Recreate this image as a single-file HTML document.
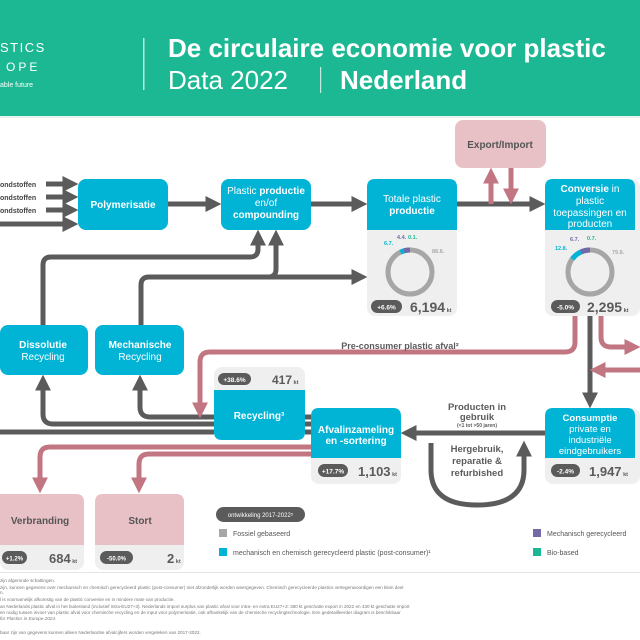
<!DOCTYPE html>
<html><head><meta charset="utf-8"><style>
html,body{margin:0;padding:0;background:#fff}
svg{display:block}
text{font-family:"Liberation Sans",sans-serif}
</style></head><body>
<svg width="640" height="640" viewBox="0 0 640 640" xmlns="http://www.w3.org/2000/svg">
<defs>
<marker id="ag" viewBox="0 0 10 10" refX="6" refY="5" markerWidth="3.2" markerHeight="3.2" orient="auto"><path d="M0,0 L10,5 L0,10 z" fill="#5b5b5b"/></marker>
<marker id="ap" viewBox="0 0 10 10" refX="6" refY="5" markerWidth="3.2" markerHeight="3.2" orient="auto"><path d="M0,0 L10,5 L0,10 z" fill="#c27682"/></marker>
</defs>
<!-- header -->
<rect x="0" y="0" width="640" height="116" fill="#1bb893"/>
<rect x="0" y="116" width="640" height="2" fill="#e6f3ef"/>
<text x="0" y="52" fill="#fff" font-size="13" letter-spacing="1.5">STICS</text>
<text x="6" y="71" fill="#fff" font-size="12" letter-spacing="3">OPE</text>
<text x="0" y="87" fill="#fff" font-size="7">able future</text>
<rect x="143" y="38" width="1.5" height="52" fill="#bfeadd"/>
<text x="168" y="57" fill="#fff" font-size="26" font-weight="bold">De circulaire economie voor plastic</text>
<text x="168" y="89" fill="#fff" font-size="26">Data 2022</text>
<rect x="320" y="67" width="1.2" height="26" fill="#bfeadd"/>
<text x="340" y="89" fill="#fff" font-size="26" font-weight="bold">Nederland</text>

<!-- gray lines -->
<g stroke="#5b5b5b" stroke-width="5" fill="none">
<line x1="46" y1="184" x2="72" y2="184" marker-end="url(#ag)"/>
<line x1="46" y1="197" x2="72" y2="197" marker-end="url(#ag)"/>
<line x1="46" y1="210" x2="72" y2="210" marker-end="url(#ag)"/>
<line x1="0" y1="224" x2="72" y2="224" marker-end="url(#ag)"/>
<line x1="168" y1="204" x2="215" y2="204" marker-end="url(#ag)"/>
<line x1="311" y1="204" x2="361" y2="204" marker-end="url(#ag)"/>
<line x1="457" y1="204" x2="539" y2="204" marker-end="url(#ag)"/>
<path d="M43 325 V265 Q43 257 51 257 H250 Q258 257 258 249 V236" marker-end="url(#ag)"/>
<path d="M141 325 V285 Q141 277 149 277 H361" marker-end="url(#ag)"/>
<path d="M268 277 Q276 277 276 269 V236" marker-end="url(#ag)"/>
<path d="M214 417 H150 Q140 417 140 407 V381" marker-end="url(#ag)"/>
<path d="M214 424 H53 Q43 424 43 414 V381" marker-end="url(#ag)"/>
<line x1="0" y1="432" x2="214" y2="432"/>
<line x1="305" y1="417" x2="311" y2="417"/>
<line x1="305" y1="424" x2="311" y2="424"/>
<line x1="305" y1="432" x2="311" y2="432"/>
<line x1="590" y1="316" x2="590" y2="402" marker-end="url(#ag)"/>
<line x1="545" y1="433" x2="407" y2="433" marker-end="url(#ag)"/>
<path d="M431 443 V470 Q431 505 477 505 Q524 505 524 470 V447" marker-end="url(#ag)"/>
</g>
<!-- pink lines -->
<g stroke="#c27682" stroke-width="5" fill="none">
<line x1="491" y1="204" x2="491" y2="174" marker-end="url(#ap)"/>
<line x1="511" y1="168" x2="511" y2="198" marker-end="url(#ap)"/>
<path d="M575 316 V342 Q575 352 565 352 H210 Q200 352 200 362 V412" marker-end="url(#ap)"/>
<path d="M601 316 V337 Q601 347 611 347 H634" marker-end="url(#ap)"/>
<line x1="640" y1="370" x2="596" y2="370" marker-end="url(#ap)"/>
<path d="M311 447 H50 Q40 447 40 457 V487" marker-end="url(#ap)"/>
<path d="M311 454 H149 Q139 454 139 464 V487" marker-end="url(#ap)"/>
</g>
<g font-size="7" font-weight="bold" fill="#444">
<text x="0" y="187">ondstoffen</text><text x="0" y="200">ondstoffen</text><text x="0" y="213">ondstoffen</text>
</g>

<!-- boxes -->
<rect x="455" y="120" width="91" height="48" rx="8" fill="#e8c1c6"/>
<text x="500" y="148" text-anchor="middle" font-size="10" font-weight="bold" fill="#555">Export/Import</text>
<rect x="78" y="179" width="90" height="51" rx="8" fill="#01b4d6"/>
<text x="123" y="208" text-anchor="middle" font-size="10" font-weight="bold" fill="#fff">Polymerisatie</text>
<rect x="221" y="179" width="90" height="51" rx="8" fill="#01b4d6"/>
<g text-anchor="middle" font-size="10" fill="#fff"><text x="266" y="194">Plastic <tspan font-weight="bold">productie</tspan></text><text x="266" y="206">en/of</text><text x="266" y="218" font-weight="bold">compounding</text></g>

<rect x="367" y="179" width="90" height="137" rx="8" fill="#efefef"/>
<path d="M367 230 V187 Q367 179 375 179 H449 Q457 179 457 187 V230 Z" fill="#01b4d6"/>
<g text-anchor="middle" font-size="10" fill="#fff"><text x="412" y="202">Totale plastic</text><text x="412" y="214" font-weight="bold">productie</text></g>
<circle cx="410" cy="272" r="22" fill="none" stroke="#a6a6a6" stroke-width="5"/>
<path d="M400.5 252.2 A22 22 0 0 1 410 250" fill="none" stroke="#01b4d6" stroke-width="5"/>
<path d="M404 250.8 A22 22 0 0 1 410 250" fill="none" stroke="#7468a8" stroke-width="5"/>
<g font-size="5.5" font-weight="bold"><text x="384" y="245" fill="#01b4d6">6.7.</text><text x="397" y="239" fill="#7468a8">4.4.</text><text x="408" y="239" fill="#1bb893">0.1.</text><text x="432" y="253" fill="#aaa">88.8.</text></g>
<rect x="371" y="300" width="31" height="13" rx="6.5" fill="#5b5b5b"/>
<text x="386.5" y="309.5" text-anchor="middle" font-size="6.5" font-weight="bold" fill="#fff">+6.6%</text>
<text x="410" y="312" font-size="14" font-weight="bold" fill="#5b5b5b">6,194<tspan font-size="5.5"> kt</tspan></text>

<rect x="545" y="179" width="95" height="137" rx="8" fill="#efefef"/>
<path d="M545 230 V187 Q545 179 553 179 H627 Q635 179 635 187 V230 Z" fill="#01b4d6"/>
<g text-anchor="middle" font-size="10" fill="#fff"><text x="590" y="192"><tspan font-weight="bold">Conversie</tspan> in</text><text x="590" y="204">plastic</text><text x="590" y="216">toepassingen en</text><text x="590" y="227">producten</text></g>
<circle cx="590" cy="272" r="22" fill="none" stroke="#a6a6a6" stroke-width="5"/>
<path d="M572.3 259 A22 22 0 0 1 590 250" fill="none" stroke="#01b4d6" stroke-width="5"/>
<path d="M581 252 A22 22 0 0 1 590 250" fill="none" stroke="#7468a8" stroke-width="5"/>
<g font-size="5.5" font-weight="bold"><text x="555" y="250" fill="#01b4d6">12.8.</text><text x="570" y="241" fill="#7468a8">6.7.</text><text x="587" y="240" fill="#1bb893">0.7.</text><text x="612" y="254" fill="#aaa">79.8.</text></g>
<rect x="551" y="300" width="29" height="13" rx="6.5" fill="#5b5b5b"/>
<text x="565.5" y="309.5" text-anchor="middle" font-size="6.5" font-weight="bold" fill="#fff">-5.0%</text>
<text x="587" y="312" font-size="14" font-weight="bold" fill="#5b5b5b">2,295<tspan font-size="5.5"> kt</tspan></text>

<rect x="0" y="325" width="88" height="50" rx="8" fill="#01b4d6"/>
<g text-anchor="middle" font-size="10" fill="#fff"><text x="43" y="348" font-weight="bold">Dissolutie</text><text x="43" y="360">Recycling</text></g>
<rect x="95" y="325" width="89" height="50" rx="8" fill="#01b4d6"/>
<g text-anchor="middle" font-size="10" fill="#fff"><text x="140" y="348" font-weight="bold">Mechanische</text><text x="140" y="360">Recycling</text></g>
<text x="400" y="349" text-anchor="middle" font-size="9" font-weight="bold" fill="#5b5b5b">Pre-consumer plastic afval²</text>

<rect x="214" y="367" width="91" height="73" rx="8" fill="#efefef"/>
<path d="M214 390 H305 V432 Q305 440 297 440 H222 Q214 440 214 432 Z" fill="#01b4d6"/>
<rect x="218" y="373" width="33" height="12" rx="6" fill="#5b5b5b"/>
<text x="234.5" y="382" text-anchor="middle" font-size="6.5" font-weight="bold" fill="#fff">+38.6%</text>
<text x="272" y="384" font-size="12" font-weight="bold" fill="#5b5b5b">417<tspan font-size="5.5"> kt</tspan></text>
<text x="259" y="419" text-anchor="middle" font-size="10" font-weight="bold" fill="#fff">Recycling³</text>

<rect x="311" y="408" width="90" height="76" rx="8" fill="#efefef"/>
<path d="M311 458 V416 Q311 408 319 408 H393 Q401 408 401 416 V458 Z" fill="#01b4d6"/>
<g text-anchor="middle" font-size="10" font-weight="bold" fill="#fff"><text x="356" y="433">Afvalinzameling</text><text x="356" y="444">en -sortering</text></g>
<rect x="318" y="464" width="30" height="13" rx="6.5" fill="#5b5b5b"/>
<text x="333" y="473.5" text-anchor="middle" font-size="6.5" font-weight="bold" fill="#fff">+17.7%</text>
<text x="358" y="476" font-size="13" font-weight="bold" fill="#5b5b5b">1,103<tspan font-size="5.5"> kt</tspan></text>

<rect x="545" y="408" width="95" height="76" rx="8" fill="#efefef"/>
<path d="M545 458 V416 Q545 408 553 408 H627 Q635 408 635 416 V458 Z" fill="#01b4d6"/>
<g text-anchor="middle" font-size="9.5" fill="#fff"><text x="590" y="421" font-weight="bold">Consumptie</text><text x="590" y="432">private en</text><text x="590" y="443">industriële</text><text x="590" y="454">eindgebruikers</text></g>
<rect x="551" y="464" width="29" height="13" rx="6.5" fill="#5b5b5b"/>
<text x="565.5" y="473.5" text-anchor="middle" font-size="6.5" font-weight="bold" fill="#fff">-2.4%</text>
<text x="589" y="476" font-size="13" font-weight="bold" fill="#5b5b5b">1,947<tspan font-size="5.5"> kt</tspan></text>

<g text-anchor="middle" fill="#5b5b5b" font-weight="bold"><text x="477" y="410" font-size="9.5">Producten in</text><text x="477" y="420" font-size="9.5">gebruik</text><text x="477" y="427" font-size="5">(&lt;1 tot &gt;50 jaren)</text>
<text x="477" y="452" font-size="9.5">Hergebruik,</text><text x="477" y="464" font-size="9.5">reparatie &amp;</text><text x="477" y="476" font-size="9.5">refurbished</text></g>

<rect x="0" y="494" width="84" height="76" rx="8" fill="#efefef"/>
<path d="M0 545 V494 H76 Q84 494 84 502 V545 Z" fill="#e8c1c6"/>
<text x="40" y="524" text-anchor="middle" font-size="10" font-weight="bold" fill="#555">Verbranding</text>
<rect x="2" y="551" width="25" height="13" rx="6.5" fill="#5b5b5b"/>
<text x="14.5" y="560.5" text-anchor="middle" font-size="6" font-weight="bold" fill="#fff">+1.2%</text>
<text x="49" y="563" font-size="13" font-weight="bold" fill="#5b5b5b">684<tspan font-size="5.5"> kt</tspan></text>
<rect x="95" y="494" width="89" height="76" rx="8" fill="#efefef"/>
<path d="M95 545 V502 Q95 494 103 494 H176 Q184 494 184 502 V545 Z" fill="#e8c1c6"/>
<text x="140" y="524" text-anchor="middle" font-size="10" font-weight="bold" fill="#555">Stort</text>
<rect x="100" y="551" width="33" height="13" rx="6.5" fill="#5b5b5b"/>
<text x="116.5" y="560.5" text-anchor="middle" font-size="6" font-weight="bold" fill="#fff">-50.0%</text>
<text x="167" y="563" font-size="13" font-weight="bold" fill="#5b5b5b">2<tspan font-size="5.5"> kt</tspan></text>

<!-- legend -->
<rect x="216" y="507" width="89" height="15" rx="7.5" fill="#5b5b5b"/>
<text x="260.5" y="517" text-anchor="middle" font-size="6" fill="#fff">ontwikkeling 2017-2022⁵</text>
<rect x="219" y="529" width="8" height="8" fill="#a6a6a6"/>
<text x="233" y="536" font-size="7" fill="#555">Fossiel gebaseerd</text>
<rect x="219" y="548" width="8" height="8" fill="#01b4d6"/>
<text x="233" y="555" font-size="7" fill="#555">mechanisch en chemisch gerecycleerd plastic (post-consumer)¹</text>
<rect x="533" y="529" width="8" height="8" fill="#7468a8"/>
<text x="547" y="536" font-size="7" fill="#555">Mechanisch gerecycleerd</text>
<rect x="533" y="548" width="8" height="8" fill="#1bb893"/>
<text x="547" y="555" font-size="7" fill="#555">Bio-based</text>
<rect x="0" y="572" width="640" height="1" fill="#e5e5e5"/>
<g font-size="4.6" fill="#777">
<text x="0" y="582">zijn afgeronde schattingen.</text>
<text x="0" y="589">zijn, kunnen gegevens over mechanisch en chemisch gerecycleerd plastic (post-consumer) niet afzonderlijk worden weergegeven. Chemisch gerecycleerde plastics vertegenwoordigen een klein deel</text>
<text x="0" y="594">n.</text>
<text x="0" y="601">l is voornamelijk afkomstig van de plastic conversie en in mindere mate van productie.</text>
<text x="0" y="608">an Nederlands plastic afval in het buitenland (inclusief intra-EU27+3). Nederlands import surplus van plastic afval voor intra- en extra EU27+3: 380 kt geschatte export in 2022 en 430 kt geschatte import</text>
<text x="0" y="614">en nodig tussen invoer van plastic afval voor chemische recycling en de input voor polymerisatie, ook afhankelijk van de chemische recyclingtechnologie. Een gedetailleerder diagram is beschikbaar</text>
<text x="0" y="620" font-style="italic">for Plastics in Europe 2024.</text>
<text x="0" y="634">baar zijn van gegevens kunnen alleen Nederlandse afvalcijfers worden vergeleken van 2017-2022.</text>
</g>
</svg>
</body></html>
